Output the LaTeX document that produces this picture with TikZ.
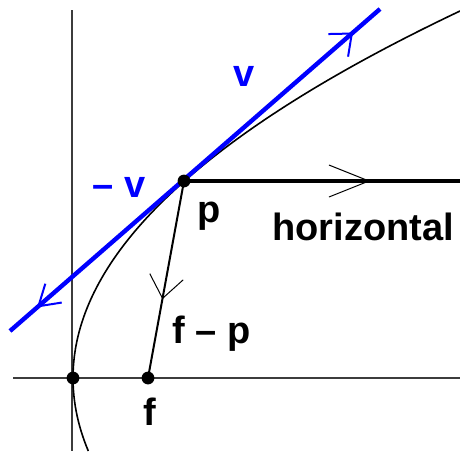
\documentclass[tikz,border=0pt]{standalone}
\usepackage{fontspec}
\setmainfont{Liberation Sans}
\usetikzlibrary{arrows.meta,decorations.markings}
\definecolor{vecB}{RGB}{0,0,255}
\definecolor{axG}{RGB}{60,60,60}

\begin{document}
\begin{tikzpicture}[x=0.5pt,y=-0.5pt,
  every node/.style={font=\fontsize{19}{22}\selectfont\bfseries, inner sep=0pt},
  dot/.style={circle, fill=black, minimum size=6.4pt, inner sep=0pt},
  axis/.style={axG, line width=0.7pt},
  curve/.style={black, line width=0.8pt}]
  % picture frame in pixel units (460 x 451), y downwards
  \useasboundingbox (0,0) rectangle (460,451);

  % axes
  \draw[axis] (72,10) -- (72,451);
  \draw[axis] (13,378) -- (460,378);

  % parabola x = x0 + y^2/(4a), vertex at (73,378), 4a = 348
  \draw[curve] plot[domain=-73:367, samples=90, variable=\t] ({73+(\t/18.655)^2},{378-\t});

  % points
  \coordinate (tl) at (10,331);
  \coordinate (tr) at (380,9);
  \coordinate (hr) at (460,181);
  \coordinate (pc) at (184,181);
  \coordinate (fc) at (148,378);

  % tangent vector v and -v
  \draw[vecB, line width=2.2pt, postaction={decorate, decoration={markings,
      mark=at position 0.927 with {\arrow[vecB]{Straight Barb[length=9pt, width=15pt, line width=1pt]}},
      mark=at position 0.073 with {\arrowreversed[vecB]{Straight Barb[length=10pt, width=12.5pt, line width=1pt]}}}}]
    (tl) -- (tr);

  % horizontal ray
  \draw[black, line width=2pt, postaction={decorate, decoration={markings,
      mark=at position 0.675 with {\arrow{Straight Barb[length=20pt, width=16pt, line width=0.5pt]}}}}]
    (pc) -- (hr);

  % f - p
  \draw[black, line width=1pt, postaction={decorate, decoration={markings,
      mark=at position 0.6 with {\arrow{Straight Barb[length=11pt, width=17pt, line width=0.5pt]}}}}]
    (pc) -- (fc);

  \node[dot] (p) at (pc) {};
  \node[dot] (vx) at (73,378) {};
  \node[dot] (f) at (fc) {};

  % labels
  \node[vecB, anchor=base west] (lv) at (233,86) {v};
  \node[vecB, anchor=base west] (lmv) at (92,197) {– v};
  \node[anchor=base west] (lp) at (197,222) {p};
  \node[anchor=base west] (lhor) at (272,240) {horizontal};
  \node[anchor=base west] (lfp) at (172,343) {f – p};
  \node[anchor=base west] (lf) at (143,425) {f};
\end{tikzpicture}
\end{document}
